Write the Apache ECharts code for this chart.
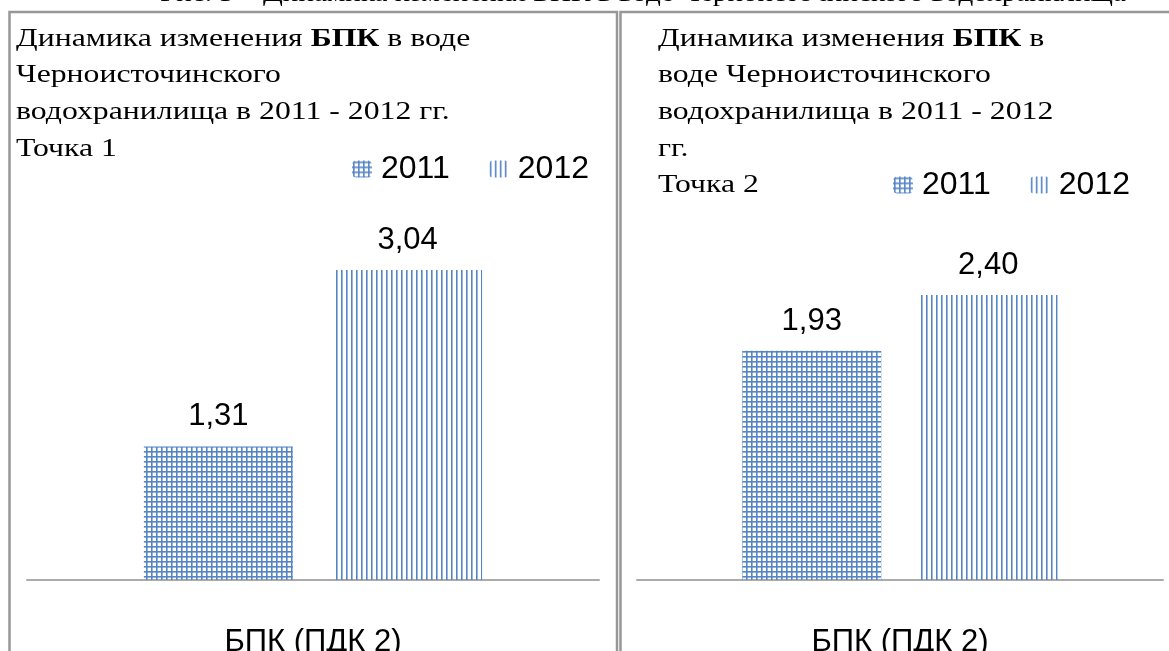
<!DOCTYPE html>
<html lang="ru">
  <head>
    <meta charset="UTF-8">
    <title>БПК</title>
    <script src="https://cdn.jsdelivr.net/npm/echarts@6/dist/echarts.min.js"></script>
    <style>
      body { margin: 0; background: #fff; }
    </style>
  </head>
  <body>
    <div id="main" style="width: 1169px;height:651px;"></div>
    <script type="text/javascript">
      // chart data
      const categories = ['БПК (ПДК 2)'];
      const years = ['2011', '2012'];
      const point1 = [1.31, 3.04];
      const point2 = [1.93, 2.40];
      const caption = 'Рис. 3 – Динамика изменения БПК в воде Черноисточинского водохранилища';
      const title1 = '{a|Динамика изменения }{b|БПК}{a| в воде}\n{a|Черноисточинского}\n{a|водохранилища в 2011 - 2012 гг.}\n{a|Точка 1}';
      const title2 = '{a|Динамика изменения }{b|БПК}{a| в}\n{a|воде Черноисточинского}\n{a|водохранилища в 2011 - 2012}\n{a|гг.}\n{a|Точка 2}';

      // hatch patterns: grid for 2011, vertical lines for 2012
      function makePattern(grid) {
        const c = document.createElement('canvas');
        c.width = 5;
        c.height = 5;
        const ctx = c.getContext('2d');
        ctx.fillStyle = '#5585c5';
        ctx.fillRect(1, 0, 1.6, 5);
        if (grid) ctx.fillRect(0, 1, 5, 1.6);
        return { image: c, repeat: 'repeat' };
      }
      const pat2011 = makePattern(true);
      const pat2012 = makePattern(false);

      const fmt = (p) => p.value.toFixed(2).replace('.', ',');
      const serif = '"Liberation Serif", "DejaVu Serif", serif';
      const sans = '"Liberation Sans", Arial, sans-serif';

      // the source text is stretched sideways, so the titles get scaleX
      function titleText(text, x) {
        return {
          type: 'text',
          x: x,
          y: 21,
          scaleX: 1.27,
          style: {
            text: text,
            rich: {
              a: { fontFamily: serif, fontSize: 25, color: '#000', lineHeight: 36.6 },
              b: { fontFamily: serif, fontSize: 25, fontWeight: 'bold', color: '#000', lineHeight: 36.6 }
            }
          }
        };
      }

      function legendOpt(left, top) {
        return {
          data: years,
          left: left,
          top: top,
          itemWidth: 20,
          itemHeight: 17,
          itemGap: 39,
          padding: 0,
          textStyle: { fontFamily: sans, fontSize: 32, color: '#000', padding: [0, 0, 0, 4] }
        };
      }

      function xAxisOpt(gridIndex) {
        return {
          type: 'category',
          gridIndex: gridIndex,
          data: categories,
          axisLine: { lineStyle: { color: '#ababab', width: 2 } },
          axisTick: { show: false },
          axisLabel: { fontFamily: sans, fontSize: 31, color: '#000', margin: 47 }
        };
      }

      function yAxisOpt(gridIndex, max) {
        return { type: 'value', gridIndex: gridIndex, min: 0, max: max, show: false, splitLine: { show: false } };
      }

      function barSeries(name, color, value, idx, width, gap) {
        return {
          name: name,
          type: 'bar',
          xAxisIndex: idx,
          yAxisIndex: idx,
          data: [value],
          barWidth: width,
          barGap: gap,
          itemStyle: { color: color },
          label: {
            show: true,
            position: 'top',
            distance: 14,
            formatter: fmt,
            fontFamily: sans,
            fontSize: 31,
            color: '#000'
          }
        };
      }

      let myChart = echarts.init(document.getElementById('main'));

      let options = {
        backgroundColor: '#fff',
        animation: false,
        legend: [legendOpt(352, 153), legendOpt(893, 169)],
        grid: [
          { left: 27, right: 570, top: 223, bottom: 71, outerBoundsMode: 'none' },
          { left: 637, right: 6, top: 283, bottom: 71, outerBoundsMode: 'none' }
        ],
        xAxis: [xAxisOpt(0), xAxisOpt(1)],
        yAxis: [yAxisOpt(0, 3.5), yAxisOpt(1, 2.5)],
        series: [
          barSeries(years[0], pat2011, point1[0], 0, 149, '27%'),
          barSeries(years[1], pat2012, point1[1], 0, 149, '27%'),
          barSeries(years[0], pat2011, point2[0], 1, 139, '27%'),
          barSeries(years[1], pat2012, point2[1], 1, 139, '27%')
        ],
        graphic: [
          {
            type: 'text',
            x: 160,
            y: -19,
            scaleX: 1.12,
            style: { text: caption, font: '26px ' + serif, fill: '#000' }
          },
          titleText(title1, 16),
          titleText(title2, 658),
          {
            type: 'rect',
            shape: { x: 9.5, y: 12, width: 607.5, height: 700 },
            style: { fill: null, stroke: '#979797', lineWidth: 2.5 }
          },
          {
            type: 'rect',
            shape: { x: 620.5, y: 12, width: 600, height: 700 },
            style: { fill: null, stroke: '#979797', lineWidth: 2.5 }
          }
        ]
      };

      myChart.setOption(options);
    </script>
  </body>
</html>
